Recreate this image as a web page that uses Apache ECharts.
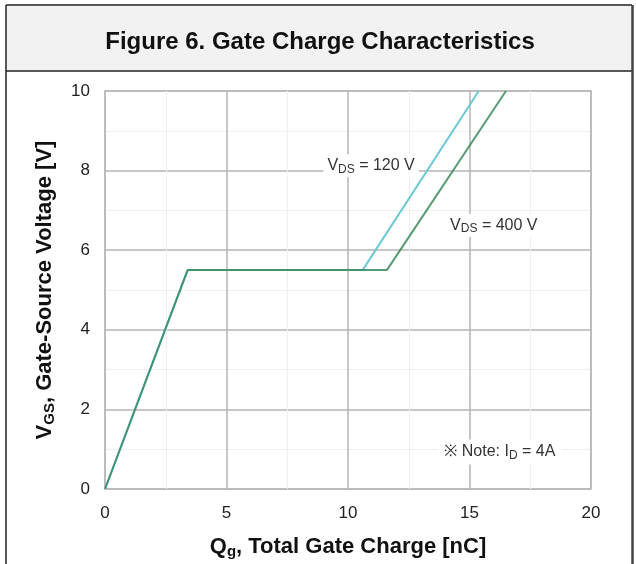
<!DOCTYPE html>
<html>
<head>
<meta charset="utf-8">
<script src="https://cdn.jsdelivr.net/npm/echarts@6/dist/echarts.min.js"></script>
<style>
  html, body { margin: 0; padding: 0; background: #ffffff; }
  #chart { width: 636px; height: 564px; }
</style>
</head>
<body>
<div id="chart"></div>
<script>
// Gate charge curves: [Qg (nC), VGS (V)]
const qg120 = [0, 3.4, 10.6, 15.38];
const vgs120 = [0, 5.5, 5.5, 10];
const qg400 = [0, 3.4, 11.6, 16.5];
const vgs400 = [0, 5.5, 5.5, 10];

// Axis ticks
const xTicks = [0, 5, 10, 15, 20];
const yTicks = [0, 2, 4, 6, 8, 10];

const FONT = '"Liberation Sans", Arial, sans-serif';

function pairs(xs, ys) {
  return xs.map((x, i) => [x, ys[i]]);
}

const chart = echarts.init(document.getElementById('chart'), null, { renderer: 'canvas' });

const labelBox = {
  show: true,
  position: 'inside',
  backgroundColor: '#ffffff',
  padding: [2, 4],
  color: '#333333',
  fontFamily: FONT,
  fontSize: 16,
  rich: {
    sub: { fontSize: 12, verticalAlign: 'bottom', padding: [7, 0, 0, 0], color: '#333333', fontFamily: FONT }
  }
};

const axisNameRich = {
  b: { fontFamily: FONT, fontSize: 22, fontWeight: 'bold', color: '#111111' },
  s: { fontFamily: FONT, fontSize: 15, fontWeight: 'bold', color: '#111111', verticalAlign: 'bottom', padding: [10, 0, 0, 0] }
};

chart.setOption({
  animation: false,
  backgroundColor: '#ffffff',
  graphic: [
    // title band and frame
    { type: 'rect', shape: { x: 6, y: 5, width: 626, height: 66 },
      style: { fill: '#f2f2f2', stroke: null }, z: -10 },
    { type: 'line', shape: { x1: 6, y1: 71, x2: 632, y2: 71 },
      style: { stroke: '#222222', lineWidth: 1.5 } },
    { type: 'line', shape: { x1: 6, y1: 5, x2: 632, y2: 5 },
      style: { stroke: '#222222', lineWidth: 1.5 } },
    { type: 'line', shape: { x1: 6, y1: 5, x2: 6, y2: 564 },
      style: { stroke: '#222222', lineWidth: 1.5 } },
    { type: 'line', shape: { x1: 632.5, y1: 5, x2: 632.5, y2: 564 },
      style: { stroke: '#444444', lineWidth: 2.5 } },
    { type: 'text', x: 320, y: 42,
      style: { text: 'Figure 6. Gate Charge Characteristics', fill: '#111111',
        font: 'bold 24px ' + FONT, textAlign: 'center', textVerticalAlign: 'middle' } }
  ],
  grid: { left: 105, top: 91, width: 486, height: 399, show: true,
    borderColor: '#c4c4c4', borderWidth: 1.5, containLabel: false },
  xAxis: {
    type: 'value', min: 0, max: 20, interval: 5,
    axisLine: { show: false }, axisTick: { show: false },
    axisLabel: { color: '#222222', fontFamily: FONT, fontSize: 17, margin: 16,
      formatter: v => xTicks.includes(v) ? String(v) : '' },
    splitLine: { show: true, lineStyle: { color: '#b4b4b4', width: 1.5 } },
    minorTick: { show: false, splitNumber: 2 },
    minorSplitLine: { show: true, lineStyle: { color: '#efefef', width: 1 } },
    name: '{b|Q}{s|g}{b|, Total Gate Charge [nC]}',
    nameLocation: 'middle', nameGap: 45,
    nameTextStyle: { rich: axisNameRich }
  },
  yAxis: {
    type: 'value', min: 0, max: 10, interval: 2,
    axisLine: { show: false }, axisTick: { show: false },
    axisLabel: { color: '#222222', fontFamily: FONT, fontSize: 17, margin: 15,
      formatter: v => yTicks.includes(v) ? String(v) : '' },
    splitLine: { show: true, lineStyle: { color: '#b4b4b4', width: 1.5 } },
    minorTick: { show: false, splitNumber: 2 },
    minorSplitLine: { show: true, lineStyle: { color: '#efefef', width: 1 } },
    name: '{b|V}{s|GS}{b|, Gate-Source Voltage [V]}',
    nameLocation: 'middle', nameGap: 48, nameRotate: 90,
    nameTextStyle: { rich: axisNameRich }
  },
  series: [
    {
      name: 'VDS = 120 V', type: 'line', data: pairs(qg120, vgs120),
      showSymbol: false, symbol: 'none',
      lineStyle: { color: '#6cc9d3', width: 2 }, z: 3,
      markPoint: {
        symbol: 'rect', symbolSize: 1, itemStyle: { color: 'rgba(0,0,0,0)' },
        data: [{ coord: [10.95, 8.12],
          label: Object.assign({}, labelBox, { formatter: 'V{sub|DS} = 120 V' }) }]
      }
    },
    {
      name: 'VDS = 400 V', type: 'line', data: pairs(qg400, vgs400),
      showSymbol: false, symbol: 'none',
      lineStyle: { color: '#3a8a5c', width: 2, opacity: 0.85 }, z: 4,
      markPoint: {
        symbol: 'rect', symbolSize: 1, itemStyle: { color: 'rgba(0,0,0,0)' },
        data: [
          { coord: [16.0, 6.62],
            label: Object.assign({}, labelBox, { formatter: 'V{sub|DS} = 400 V' }) },
          { coord: [16.25, 0.93],
            label: Object.assign({}, labelBox, { formatter: '※ Note: I{sub|D} = 4A', padding: [3, 6] }) }
        ]
      }
    }
  ]
});
</script>
</body>
</html>
